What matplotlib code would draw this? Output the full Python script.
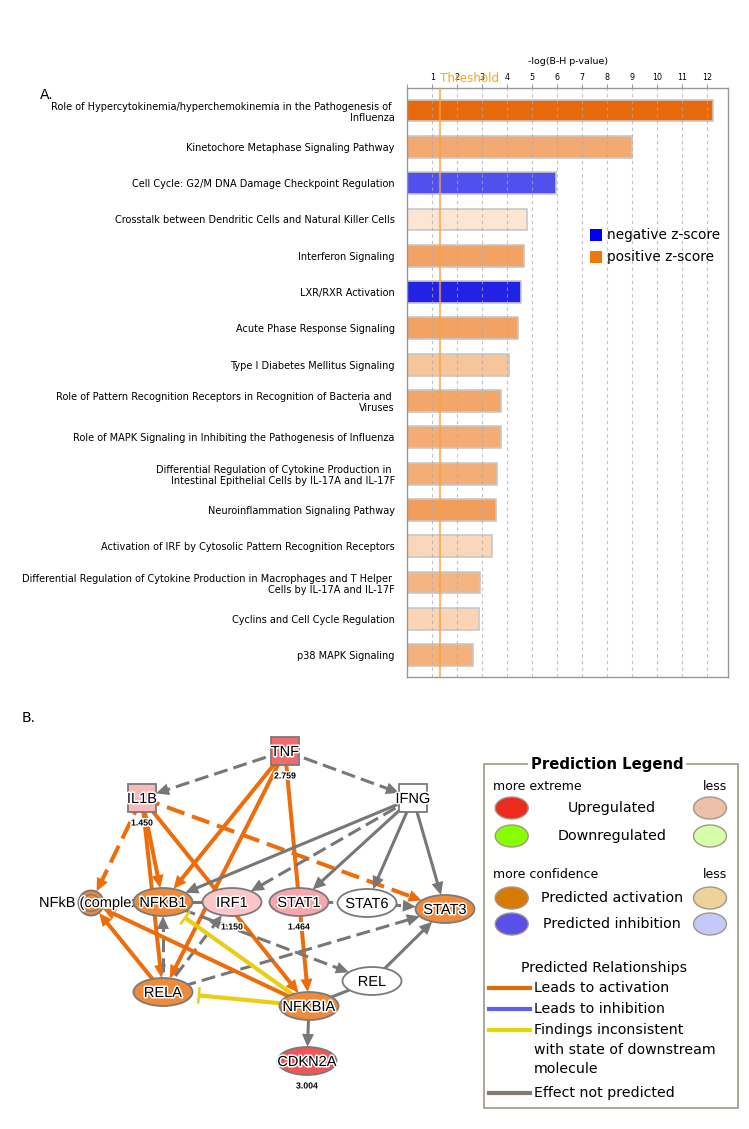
import numpy as np
import matplotlib.pyplot as plt
from matplotlib.patches import Ellipse, Rectangle, Polygon, Circle
import matplotlib.patheffects as pe

# ---------------- panel A data ----------------
pathways = [
    "Role of Hypercytokinemia/hyperchemokinemia in the Pathogenesis of \nInfluenza",
    "Kinetochore Metaphase Signaling Pathway",
    "Cell Cycle: G2/M DNA Damage Checkpoint Regulation",
    "Crosstalk between Dendritic Cells and Natural Killer Cells",
    "Interferon Signaling",
    "LXR/RXR Activation",
    "Acute Phase Response Signaling",
    "Type I Diabetes Mellitus Signaling",
    "Role of Pattern Recognition Receptors in Recognition of Bacteria and \nViruses",
    "Role of MAPK Signaling in Inhibiting the Pathogenesis of Influenza",
    "Differential Regulation of Cytokine Production in \nIntestinal Epithelial Cells by IL-17A and IL-17F",
    "Neuroinflammation Signaling Pathway",
    "Activation of IRF by Cytosolic Pattern Recognition Receptors",
    "Differential Regulation of Cytokine Production in Macrophages and T Helper \nCells by IL-17A and IL-17F",
    "Cyclins and Cell Cycle Regulation",
    "p38 MAPK Signaling",
]
neg_log_p = [12.21, 8.98, 5.95, 4.78, 4.68, 4.54, 4.44, 4.08,
             3.74, 3.74, 3.58, 3.54, 3.40, 2.92, 2.86, 2.63]
bar_colors = ['#E8690C', '#F2AA72', '#5050EE', '#FCE5D3', '#F2A363', '#2222E6',
              '#F2A263', '#F7C59C', '#F3A668', '#F3AC75', '#F3AD77', '#F19E5C',
              '#FAD7BA', '#F4B584', '#FAD4B4', '#F4B17C']
threshold = 1.31

# ---------------- panel B data ----------------
nodes = ['TNF', 'IL1B', 'IFNG', 'NFkB (complex)', 'NFKB1', 'IRF1', 'STAT1',
         'STAT6', 'STAT3', 'RELA', 'REL', 'NFKBIA', 'CDKN2A']
node_shape = {'TNF': 'box', 'IL1B': 'box', 'IFNG': 'box', 'NFkB (complex)': 'complex'}
node_fill = {'TNF': '#F26A6C', 'IL1B': '#F8B9BB', 'IFNG': '#FFFFFF',
             'NFkB (complex)': '#EE8A3A', 'NFKB1': '#EE8A3A', 'IRF1': '#FCC6C8',
             'STAT1': '#F6A6AC', 'STAT6': '#FFFFFF', 'STAT3': '#EE8A3A',
             'RELA': '#EE8A3A', 'REL': '#FFFFFF', 'NFKBIA': '#EE8A3A',
             'CDKN2A': '#F05558'}
node_value = {'TNF': '2.759', 'IL1B': '1.450', 'IRF1': '1.150',
              'STAT1': '1.464', 'CDKN2A': '3.004'}

# (source, target, relation, dashed, end)
edges = [
    ('TNF', 'IL1B', 'none', True, 'arrow'),
    ('TNF', 'IFNG', 'none', True, 'arrow'),
    ('TNF', 'NFKB1', 'act', False, 'arrow'),
    ('TNF', 'RELA', 'act', False, 'arrow'),
    ('TNF', 'NFKBIA', 'act', False, 'arrow'),
    ('IL1B', 'NFkB (complex)', 'act', True, 'arrow'),
    ('IL1B', 'NFKB1', 'act', False, 'arrow'),
    ('IL1B', 'RELA', 'act', False, 'arrow'),
    ('IL1B', 'NFKBIA', 'act', False, 'arrow'),
    ('IL1B', 'STAT3', 'act', True, 'arrow'),
    ('IFNG', 'NFKB1', 'none', False, 'arrow'),
    ('IFNG', 'IRF1', 'none', True, 'arrow'),
    ('IFNG', 'STAT1', 'none', False, 'arrow'),
    ('IFNG', 'STAT6', 'none', False, 'arrow'),
    ('IFNG', 'STAT3', 'none', False, 'arrow'),
    ('STAT6', 'STAT3', 'none', True, 'arrow'),
    ('STAT1', 'STAT6', 'none', True, 'none'),
    ('NFKB1', 'IRF1', 'none', False, 'none'),
    ('NFKB1', 'REL', 'none', True, 'arrow'),
    ('RELA', 'NFKB1', 'none', True, 'arrow'),
    ('RELA', 'IRF1', 'none', True, 'arrow'),
    ('RELA', 'STAT3', 'none', True, 'arrow'),
    ('RELA', 'NFkB (complex)', 'act', False, 'arrow'),
    ('NFKBIA', 'NFkB (complex)', 'act', False, 'arrow'),
    ('NFKBIA', 'NFKB1', 'inc', False, 'bar'),
    ('NFKBIA', 'RELA', 'inc', False, 'bar'),
    ('NFKBIA', 'REL', 'none', False, 'none'),
    ('REL', 'STAT3', 'none', False, 'arrow'),
    ('NFKBIA', 'CDKN2A', 'none', False, 'arrow'),
]

# layout of the network in figure pixels (x right, y down)
layout = {'TNF': (285, 751), 'IL1B': (142, 798), 'IFNG': (413, 798),
          'NFkB (complex)': (91, 903), 'NFKB1': (163, 902), 'IRF1': (232, 902),
          'STAT1': (299, 902), 'STAT6': (367, 903), 'STAT3': (445, 909),
          'RELA': (163, 992), 'REL': (372, 981), 'NFKBIA': (309, 1006),
          'CDKN2A': (307, 1061)}
rel_color = {'act': '#EE6C0A', 'none': '#777777', 'inc': '#EACD16'}
rel_width = {'act': 2.9, 'none': 2.2, 'inc': 3.0}

fig = plt.figure(figsize=(7.49, 11.29), dpi=100)

# ---------------- panel A ----------------
W, H = 749, 1129
ax = fig.add_axes([407.3 / W, 1 - 677 / H, 321 / W, 589 / H])
y = np.arange(len(pathways))
ax.barh(y, neg_log_p, height=0.6, color=bar_colors, edgecolor='#C8C8C8',
        linewidth=1.2, zorder=2)
ax.set_xlim(0, 12.84)
ax.set_ylim(15.6, -0.62)
ax.set_yticks(y)
ax.set_yticklabels(pathways, fontsize=7, linespacing=1.15)
ax.tick_params(axis='y', length=0, pad=9)
ax.xaxis.tick_top()
ax.xaxis.set_label_position('top')
ax.set_xticks(range(0, 13))
ax.set_xticklabels([''] + [str(i) for i in range(1, 13)], fontsize=5.8)
ax.tick_params(axis='x', length=3, color='#999999', pad=1.5)
ax.set_xlabel('-log(B-H p-value)', fontsize=6.8, labelpad=6)
for s in ax.spines.values():
    s.set_color('#999999')
    s.set_linewidth(1.0)
for xv in range(1, 13):
    ax.axvline(xv, color='#AAAAAA', lw=0.8, ls=(0, (3, 3)), alpha=0.7, zorder=3)
ax.axvline(threshold, color='#F9A23A', lw=1.6, alpha=0.7, zorder=4)
ax.text(threshold, 1.005, 'Threshold', transform=ax.get_xaxis_transform(),
        color='#F5A623', fontsize=8.6, va='bottom', ha='left', clip_on=False)

# overlay in pixel units for the rest
ov = fig.add_axes([0, 0, 1, 1])
ov.set_xlim(0, W)
ov.set_ylim(H, 0)
ov.axis('off')

ov.text(40, 95, 'A.', fontsize=10, va='center', ha='left')
ov.text(22, 718, 'B.', fontsize=10, va='center', ha='left')

for yy, c, lab in [(235, '#0000EE', 'negative z-score'), (257, '#EE7711', 'positive z-score')]:
    ov.add_patch(Rectangle((589.5, yy - 6), 12, 12, facecolor=c, edgecolor='none'))
    ov.text(607, yy, lab, fontsize=9.8, va='center', ha='left')

# ---------------- panel B network ----------------
def half_extent(name, ux, uy):
    shape = node_shape.get(name, 'ellipse')
    if shape == 'box':
        a, b = 14, 14
        tx = a / abs(ux) if abs(ux) > 1e-9 else 1e9
        ty = b / abs(uy) if abs(uy) > 1e-9 else 1e9
        return min(tx, ty)
    if shape == 'complex':
        return 13
    return 1 / np.hypot(ux / 29.5, uy / 14)

for src, dst, rel, dashed, end in edges:
    x0, y0 = layout[src]
    x1, y1 = layout[dst]
    d = np.hypot(x1 - x0, y1 - y0)
    ux, uy = (x1 - x0) / d, (y1 - y0) / d
    px, py = -uy, ux
    col = rel_color[rel]
    lw = rel_width[rel]
    tip = d - half_extent(dst, ux, uy)
    if end == 'arrow':
        hl, hw = 13, 12
        stop = tip - hl + 1
    elif end == 'bar':
        tip = tip - 7
        stop = tip
    else:
        stop = tip
    ls = (0, (4.6, 2.0)) if dashed else '-'
    ov.plot([x0, x0 + ux * stop], [y0, y0 + uy * stop], color=col, lw=lw,
            ls=ls, solid_capstyle='butt', dash_capstyle='butt', zorder=2)
    tx, ty = x0 + ux * tip, y0 + uy * tip
    if end == 'arrow':
        bx, by = tx - ux * hl, ty - uy * hl
        ov.add_patch(Polygon([(tx, ty), (bx + px * hw / 2, by + py * hw / 2),
                              (bx - px * hw / 2, by - py * hw / 2)],
                             closed=True, facecolor=col, edgecolor='none', zorder=2))
    elif end == 'bar':
        ov.plot([tx + px * 7, tx - px * 7], [ty + py * 7, ty - py * 7],
                color=col, lw=1.8, zorder=2)

halo = [pe.withStroke(linewidth=2.2, foreground='white')]
for i, name in enumerate(nodes):
    x, yy = layout[name]
    z = 5 + 2 * i
    shape = node_shape.get(name, 'ellipse')
    if shape == 'box':
        ov.add_patch(Rectangle((x - 14, yy - 14), 28, 28, facecolor=node_fill[name],
                               edgecolor='#7A7A7A', lw=1.3, zorder=z))
    elif shape == 'complex':
        ov.add_patch(Circle((x, yy), 12.5, facecolor=node_fill[name],
                            edgecolor='#7A7A7A', lw=1.4, zorder=z))
        ov.add_patch(Circle((x, yy), 8.5, facecolor='none',
                            edgecolor='#7A7A7A', lw=1.0, zorder=z))
    else:
        ov.add_patch(Ellipse((x, yy), 59, 28, facecolor=node_fill[name],
                             edgecolor='#7A7A7A', lw=1.3, zorder=z))
    if shape == 'complex':
        ov.text(39, yy, name, fontsize=10.5, family='Liberation Sans',
                va='center', ha='left', zorder=z + 1, path_effects=halo)
    else:
        ov.text(x, yy + 1, name, fontsize=10.5, family='Liberation Sans',
                va='center', ha='center', zorder=z + 1, path_effects=halo)
    if name in node_value:
        ov.text(x, yy + 25, node_value[name], fontsize=6.3, family='Liberation Sans',
                weight='bold', va='center', ha='center', zorder=z + 1,
                path_effects=halo)

# ---------------- prediction legend ----------------
ov.add_patch(Rectangle((484.3, 764.3), 254, 343.7, facecolor='none',
                       edgecolor='#A09888', lw=1.2))
ov.text(607, 764.3, 'Prediction Legend', fontsize=10.7, weight='bold',
        ha='center', va='center', bbox=dict(facecolor='white', edgecolor='none', pad=2))

leg_rows = [
    ('more extreme', 786, None),
    ('Upregulated', 808, ('#EE2A1E', '#EDC0AA')),
    ('Downregulated', 836, ('#88FF00', '#D4FFA8')),
    ('more confidence', 875, None),
    ('Predicted activation', 898, ('#D87A08', '#EDD29A')),
    ('Predicted inhibition', 924, ('#5A50E8', '#C4C8FA')),
]
for lab, yy, cols in leg_rows:
    if cols is None:
        ov.text(492.7, yy, lab, fontsize=9, ha='left', va='center')
        ov.text(727, yy, 'less', fontsize=9, ha='right', va='center')
    else:
        ov.add_patch(Ellipse((511.7, yy), 33, 22, facecolor=cols[0], edgecolor='#A09888', lw=1))
        ov.add_patch(Ellipse((710, yy), 33, 22, facecolor=cols[1], edgecolor='#A09888', lw=1))
        ov.text(612, yy, lab, fontsize=10.3, ha='center', va='center')

ov.text(604, 967.7, 'Predicted Relationships', fontsize=10.2, ha='center', va='center')
rel_rows = [
    ('Leads to activation', 988.3, '#D8700A'),
    ('Leads to inhibition', 1009.3, '#6060F0'),
    ('Findings inconsistent\nwith state of downstream\nmolecule', 1030, '#E0D800'),
    ('Effect not predicted', 1093.3, '#857C70'),
]
for lab, yy, c in rel_rows:
    ov.plot([489.3, 530], [yy, yy], color=c, lw=3)
    for k, part in enumerate(lab.split('\n')):
        ov.text(534, yy + k * 19.5, part, fontsize=10.2, ha='left', va='center')

plt.savefig('out.png', dpi=100)
